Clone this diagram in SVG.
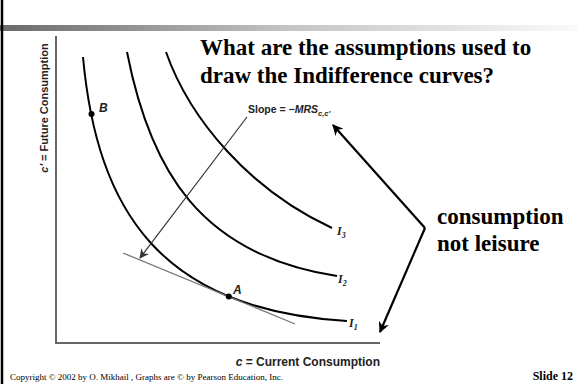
<svg xmlns="http://www.w3.org/2000/svg" width="577" height="384" viewBox="0 0 577 384">
<defs>
<linearGradient id="bar" x1="0" y1="0" x2="1" y2="0">
<stop offset="0" stop-color="#6a6a6a"/>
<stop offset="0.5" stop-color="#c4c4c4"/>
<stop offset="1" stop-color="#fafafa"/>
</linearGradient>
<marker id="ah" viewBox="0 0 10 10" refX="9" refY="5" markerWidth="5" markerHeight="5" orient="auto" markerUnits="strokeWidth">
<path d="M0,0 L10,5 L0,10 L3,5 z" fill="#000"/>
</marker>
<marker id="ahg" viewBox="0 0 10 10" refX="9" refY="5" markerWidth="8" markerHeight="8" orient="auto" markerUnits="strokeWidth">
<path d="M0,0 L10,5 L0,10 L3,5 z" fill="#333"/>
</marker>
</defs>
<style>
.curve{fill:none;stroke:#000;stroke-width:2}
.axis{fill:none;stroke:#666;stroke-width:2}
.title{font-family:"Liberation Serif",serif;font-weight:bold;font-size:23px;fill:#000}
.lbl{font-family:"Liberation Sans","Open Sans",sans-serif;font-weight:bold;fill:#222}
.il{font-family:"Liberation Serif",serif;font-style:italic;font-weight:bold;font-size:12px;fill:#222}
.pl{font-family:"Liberation Sans",sans-serif;font-style:italic;font-weight:bold;font-size:12px;fill:#222}
</style>
<rect width="577" height="384" fill="#fff"/>
<rect x="0" y="25" width="577" height="6" fill="url(#bar)"/>
<line x1="2" y1="0" x2="2" y2="384" stroke="#000" stroke-width="2.5"/>

<g id="axes">
<path class="axis" d="M56,36 V343 H380"/>
<text class="lbl" font-size="11" transform="translate(48,108) rotate(-90)" text-anchor="middle"><tspan font-style="italic">c′</tspan> = Future Consumption</text>
<text class="lbl" font-size="12" x="380" y="366" text-anchor="end"><tspan font-style="italic">c</tspan> = Current Consumption</text>
</g>

<g id="curve-I1">
<path class="curve" d="M83,57 C97,210 160,310 347,321"/>
<text class="il" x="349" y="327">I<tspan font-size="8" dy="3">1</tspan></text>
</g>
<g id="curve-I2">
<path class="curve" d="M127,52 C150,170 200,255 337,276"/>
<text class="il" x="338" y="283">I<tspan font-size="8" dy="3">2</tspan></text>
</g>
<g id="curve-I3">
<path class="curve" d="M166,52 C190,120 250,190 332,228"/>
<text class="il" x="337" y="235">I<tspan font-size="8" dy="3">3</tspan></text>
</g>

<g id="tangent">
<line x1="123" y1="253" x2="295" y2="324" stroke="#777" stroke-width="1.3"/>
</g>

<g id="point-A">
<circle cx="228.8" cy="296.6" r="3" fill="#000"/>
<text class="pl" x="233" y="294">A</text>
</g>
<g id="point-B">
<circle cx="91.5" cy="114" r="3" fill="#000"/>
<text class="pl" x="99" y="112">B</text>
</g>

<g id="slope-label">
<text class="lbl" font-size="10.5" x="248" y="113" fill="#333">Slope = <tspan font-style="italic">−MRS</tspan><tspan font-style="italic" font-size="7.5" dy="3">c,c′</tspan></text>
</g>

<g id="title">
<text class="title" x="200" y="55">What are the assumptions used to</text>
<text class="title" x="200" y="83">draw the Indifference curves?</text>
</g>

<g id="note">
<text class="title" x="437" y="224">consumption</text>
<text class="title" x="437" y="251">not leisure</text>
</g>

<g id="connectors">
<line x1="247" y1="117" x2="140" y2="258" stroke="#333" stroke-width="1.2" marker-end="url(#ahg)"/>
<line x1="425" y1="228" x2="333" y2="125" stroke="#000" stroke-width="2.2" marker-end="url(#ah)"/>
<line x1="425" y1="228" x2="380" y2="332" stroke="#000" stroke-width="2.2" marker-end="url(#ah)"/>
</g>

<g id="footer">
<text font-family="Liberation Serif, serif" font-size="9" x="10" y="380">Copyright © 2002 by O. Mikhail , Graphs are © by Pearson Education, Inc.</text>
<text font-family="Liberation Serif, serif" font-weight="bold" font-size="12" x="573" y="380" text-anchor="end">Slide 12</text>
</g>
</svg>
